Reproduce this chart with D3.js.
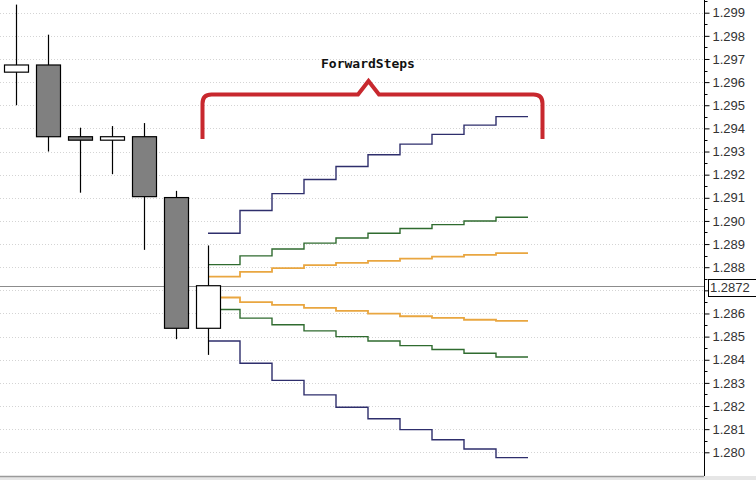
<!DOCTYPE html>
<html>
<head>
<meta charset="utf-8">
<script src="https://cdn.jsdelivr.net/npm/d3@7"></script>
<style>
  html, body { margin: 0; padding: 0; background: #fff; }
  svg { display: block; }
</style>
</head>
<body>
<svg id="chart" width="756" height="480"></svg>
<script>
// ---- data ----
const candleOpen  = [1.29643, 1.29674, 1.29364, 1.29349, 1.29364, 1.29101, 1.28536];
const candleHigh  = [1.29935, 1.29805, 1.29403, 1.29410, 1.29423, 1.29130, 1.28894];
const candleLow   = [1.29500, 1.29300, 1.29122, 1.29202, 1.28875, 1.28489, 1.28421];
const candleClose = [1.29674, 1.29364, 1.29349, 1.29364, 1.29105, 1.28536, 1.28720];

const stepStart = 6; // forward steps start at the last candle
const upperBlue   = [1.28947, 1.29045, 1.29118, 1.29179, 1.29235, 1.29286, 1.29332, 1.29374, 1.29414, 1.29451];
const upperGreen  = [1.28811, 1.28849, 1.28879, 1.28904, 1.28926, 1.28947, 1.28967, 1.28984, 1.29000, 1.29016];
const upperOrange = [1.28759, 1.28780, 1.28796, 1.28809, 1.28819, 1.28827, 1.28837, 1.28846, 1.28853, 1.28861];
const lowerOrange = [1.28669, 1.28649, 1.28637, 1.28624, 1.28611, 1.28599, 1.28588, 1.28581, 1.28573, 1.28568];
const lowerGreen  = [1.28617, 1.28580, 1.28551, 1.28525, 1.28500, 1.28481, 1.28461, 1.28444, 1.28428, 1.28412];
const lowerBlue   = [1.28481, 1.28385, 1.28311, 1.28248, 1.28195, 1.28145, 1.28098, 1.28054, 1.28014, 1.27977];

const yTickValues = d3.range(1280, 1300, 1).map(v => v / 1000);
const yMinorTicks = d3.range(12805, 13000, 10).map(v => v / 10000);
const currentPrice = 1.2872;
const currentPriceLabel = "1.2872";
const titleText = "ForwardSteps";

// ---- scales ----
const svg = d3.select("#chart");
const axisX = 704;
const x = d3.scaleLinear().domain([0, 16]).range([16, 528]);
const y = d3.scaleLinear().domain([1.280, 1.299]).range([452.3, 12.7]);

// ---- gridlines ----
svg.append("g").selectAll("line").data(yTickValues).join("line")
  .attr("x1", 0).attr("x2", axisX)
  .attr("y1", d => Math.round(y(d)) + 0.5).attr("y2", d => Math.round(y(d)) + 0.5)
  .attr("stroke", "#d4d4d4").attr("stroke-width", 1).attr("stroke-dasharray", "1,2");

// current price line
svg.append("line")
  .attr("x1", 0).attr("x2", axisX)
  .attr("y1", Math.round(y(currentPrice)) + 0.5).attr("y2", Math.round(y(currentPrice)) + 0.5)
  .attr("stroke", "#8c8c8c").attr("stroke-width", 1);

// ---- forward step lines ----
const stepLine = d3.line()
  .x((d, i) => x(stepStart + i))
  .y(d => y(d))
  .curve(d3.curveStepAfter);
const series = [
  {vals: upperOrange, color: "#e9a640", w: 1.8},
  {vals: lowerOrange, color: "#e9a640", w: 1.8},
  {vals: upperGreen, color: "#2f6b2f", w: 1.4},
  {vals: lowerGreen, color: "#2f6b2f", w: 1.4},
  {vals: upperBlue, color: "#2e2e6c", w: 1.4},
  {vals: lowerBlue, color: "#2e2e6c", w: 1.4}
];
svg.append("g").selectAll("path").data(series).join("path")
  .attr("d", s => stepLine(s.vals.concat([s.vals[s.vals.length - 1]])))
  .attr("fill", "none").attr("stroke", s => s.color).attr("stroke-width", s => s.w);

// ---- candles ----
const candles = candleOpen.map((o, i) => ({i, o, h: candleHigh[i], l: candleLow[i], c: candleClose[i]}));
const cg = svg.append("g");
const bodyW = 24;
cg.selectAll("line.wick").data(candles).join("line")
  .attr("class", "wick")
  .attr("x1", d => Math.round(x(d.i)) + 0.5).attr("x2", d => Math.round(x(d.i)) + 0.5)
  .attr("y1", d => y(d.h)).attr("y2", d => y(d.l))
  .attr("stroke", "#000").attr("stroke-width", 1.2);
cg.selectAll("rect.body").data(candles).join("rect")
  .attr("class", "body")
  .attr("x", d => Math.round(x(d.i)) - bodyW / 2 + 0.5)
  .attr("width", bodyW)
  .attr("y", d => y(Math.max(d.o, d.c)))
  .attr("height", d => Math.max(2, y(Math.min(d.o, d.c)) - y(Math.max(d.o, d.c))))
  .attr("fill", d => d.c >= d.o ? "#ffffff" : "#808080")
  .attr("stroke", "#000").attr("stroke-width", 1.2);

// ---- bracket ----
const bx0 = 202.5, bx1 = 542.5, bTop = 94.5, bBot = 139, r = 9;
const apexX = 368.5, apexY = 81, apexHalf = 10.5;
const bracketPath = d3.path();
bracketPath.moveTo(bx0, bBot);
bracketPath.lineTo(bx0, bTop + r);
bracketPath.quadraticCurveTo(bx0, bTop, bx0 + r, bTop);
bracketPath.lineTo(apexX - apexHalf, bTop);
bracketPath.lineTo(apexX, apexY);
bracketPath.lineTo(apexX + apexHalf, bTop);
bracketPath.lineTo(bx1 - r, bTop);
bracketPath.quadraticCurveTo(bx1, bTop, bx1, bTop + r);
bracketPath.lineTo(bx1, bBot);
svg.append("path").attr("d", bracketPath.toString())
  .attr("fill", "none").attr("stroke", "#c8282e").attr("stroke-width", 4)
  .attr("stroke-linejoin", "miter");

svg.append("text")
  .attr("x", 368).attr("y", 68)
  .attr("text-anchor", "middle")
  .attr("font-family", "'DejaVu Sans Mono', monospace")
  .attr("font-weight", "bold").attr("font-size", 13)
  .attr("fill", "#111")
  .text(titleText);

// ---- right axis ----
const axis = d3.axisRight(y).tickValues(yTickValues).tickFormat(d3.format(".3f"))
  .tickSize(5).tickPadding(3);
const ag = svg.append("g").attr("transform", `translate(${axisX + 0.5},0)`).call(axis);
ag.select(".domain").attr("stroke", "#000").attr("d", "M0,0V476");
ag.selectAll(".tick line").attr("stroke", "#000");
ag.selectAll(".tick text")
  .attr("font-family", "'Liberation Sans', Arial, sans-serif")
  .attr("font-size", 13).attr("fill", "#333");
ag.selectAll("line.minor").data(yMinorTicks).join("line")
  .attr("class", "minor")
  .attr("x1", 0).attr("x2", 3)
  .attr("y1", d => Math.round(y(d)) + 0.5).attr("y2", d => Math.round(y(d)) + 0.5)
  .attr("stroke", "#000");

// current price box
const py = y(currentPrice);
svg.append("rect")
  .attr("x", 708.5).attr("y", Math.round(py) - 6.5)
  .attr("width", 52).attr("height", 17)
  .attr("fill", "#fff").attr("stroke", "#000").attr("stroke-width", 1);
svg.append("text")
  .attr("x", 710).attr("y", Math.round(py) + 6)
  .attr("font-family", "'Liberation Sans', Arial, sans-serif")
  .attr("font-size", 13).attr("fill", "#333")
  .text(currentPriceLabel);

// bottom border
svg.append("rect").attr("x", 0).attr("y", 476).attr("width", 756).attr("height", 4).attr("fill", "#e6e6e6");
svg.append("line").attr("x1", 0).attr("x2", axisX).attr("y1", 476.5).attr("y2", 476.5)
  .attr("stroke", "#9a9a9a").attr("stroke-width", 1.5);
</script>
</body>
</html>
